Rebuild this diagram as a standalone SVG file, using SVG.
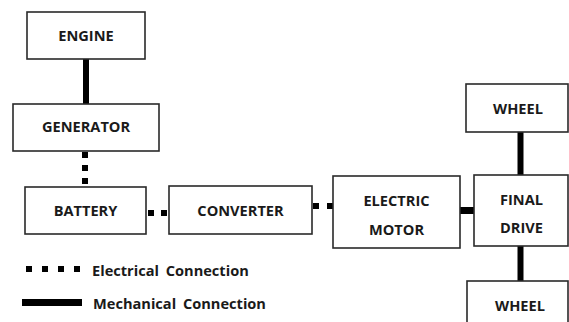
<svg xmlns="http://www.w3.org/2000/svg" width="569" height="322" viewBox="0 0 569 322">
<style>
.box{fill:#fff;stroke:#2a2a2a;stroke-width:1.6}
.t{font-family:"Open Sans","Liberation Sans",sans-serif;font-weight:700;font-size:14.6px;fill:#1a1a1a;text-anchor:middle}
.lg{font-family:"Open Sans","Liberation Sans",sans-serif;font-weight:700;font-size:14.6px;fill:#1a1a1a;word-spacing:3px}
.mech{stroke:#000;stroke-width:6;fill:none}
.elec{stroke:#000;stroke-width:6;fill:none;stroke-dasharray:6 7}
</style>
<rect width="569" height="322" fill="#fff"/>
<g id="connectors">
<line class="mech" x1="86" y1="59" x2="86" y2="104"/>
<line class="elec" x1="85" y1="152" x2="85" y2="186"/>
<line class="elec" x1="148" y1="213" x2="168" y2="213"/>
<line class="elec" x1="313" y1="206" x2="333" y2="206" style="stroke-dasharray:6 8"/>
<line class="mech" x1="460" y1="210.5" x2="474" y2="210.5" style="stroke-width:7"/>
<line class="mech" x1="520.5" y1="132" x2="520.5" y2="175"/>
<line class="mech" x1="520.5" y1="246" x2="520.5" y2="281"/>
</g>
<g id="engine"><rect class="box" x="27" y="12" width="118" height="47"/><text class="t" x="86" y="41">ENGINE</text></g>
<g id="generator"><rect class="box" x="13" y="104" width="146" height="47"/><text class="t" x="86" y="132">GENERATOR</text></g>
<g id="battery"><rect class="box" x="25" y="187" width="121" height="47"/><text class="t" x="85.5" y="216">BATTERY</text></g>
<g id="converter"><rect class="box" x="169" y="186" width="143" height="48"/><text class="t" x="240.5" y="216">CONVERTER</text></g>
<g id="electric-motor"><rect class="box" x="333" y="176" width="127" height="72"/><text class="t" x="396.5" y="206">ELECTRIC</text><text class="t" x="396.5" y="235">MOTOR</text></g>
<g id="final-drive"><rect class="box" x="474" y="175" width="94" height="71"/><text class="t" x="521.5" y="205">FINAL</text><text class="t" x="521.5" y="233">DRIVE</text></g>
<g id="wheel-top"><rect class="box" x="466" y="84" width="102" height="48"/><text class="t" x="518" y="113.5">WHEEL</text></g>
<g id="wheel-bottom"><rect class="box" x="467" y="281" width="101" height="50"/><text class="t" x="520" y="311">WHEEL</text></g>
<g id="legend">
<line x1="26" y1="269" x2="81" y2="269" style="stroke:#000;stroke-width:6;stroke-dasharray:6 10"/>
<text class="lg" x="92" y="276">Electrical Connection</text>
<line x1="22" y1="302.5" x2="82" y2="302.5" style="stroke:#000;stroke-width:7"/>
<text class="lg" x="93" y="309">Mechanical Connection</text>
</g>
</svg>
